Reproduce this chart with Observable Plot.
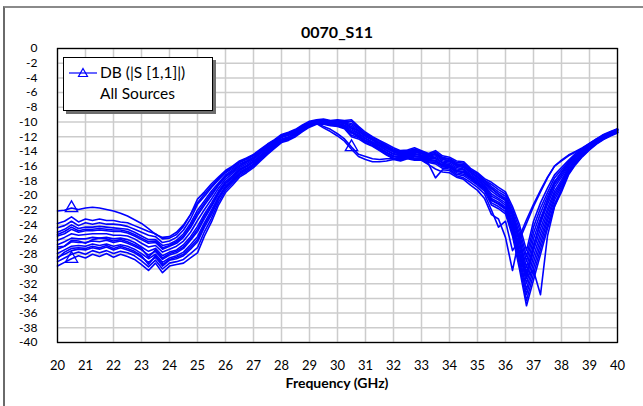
<!DOCTYPE html>
<html><head><meta charset="utf-8">
<script src="https://cdn.jsdelivr.net/npm/d3@7"></script>
<script src="https://cdn.jsdelivr.net/npm/@observablehq/plot@0.6"></script>
<style>
body{margin:0;background:#fff;}
#wrap{position:relative;width:643px;height:406px;overflow:hidden;font-family:Lato,"Open Sans",sans-serif;background:#fff;color:#000;}
#frame{position:absolute;left:3px;top:6px;width:700px;height:460px;border-left:2px solid #6a6a6a;border-top:2px solid #8a8a8a;}
#chart{position:absolute;left:0;top:0;}
#title{position:absolute;left:57px;width:560px;top:22px;text-align:center;font-weight:bold;font-size:16px;line-height:20px;}
#xlabel{position:absolute;left:57px;width:560px;top:374px;text-align:center;font-weight:bold;font-size:14px;line-height:18px;}
#legend{position:absolute;left:63px;top:57px;width:148px;height:52px;border:1px solid #000;background:#fff;box-shadow:3px 3px 0 #6e6e6e;}
#legend svg{position:absolute;left:4px;top:6px;}
.lt{position:absolute;left:36px;font-size:15.5px;line-height:18px;white-space:nowrap;}
</style>
</head><body>
<div id="wrap">
  <div id="frame"></div>
  <div id="chart"></div>
  <div id="title">0070_S11</div>
  <div id="xlabel">Frequency (GHz)</div>
  <div id="legend">
    <svg width="32" height="18"><line x1="1" y1="9" x2="29" y2="9" stroke="#0000ff" stroke-width="1.2"/><path d="M15,4.5 L19.5,12.5 L10.5,12.5 Z" fill="none" stroke="#0000ff" stroke-width="1.2"/></svg>
    <div class="lt" style="top:5px">DB (|S [1,1]|)</div>
    <div class="lt" style="top:26px">All Sources</div>
  </div>
</div>
<script>
// Frequency grid (GHz)
const freq = [20,20.25,20.5,20.75,21,21.25,21.5,21.75,22,22.25,
22.5,22.75,23,23.25,23.5,23.75,24,24.25,24.5,24.75,
25,25.25,25.5,25.75,26,26.25,26.5,26.75,27,27.25,
27.5,27.75,28,28.25,28.5,28.75,29,29.25,29.5,29.75,
30,30.25,30.5,30.75,31,31.25,31.5,31.75,32,32.25,
32.5,32.75,33,33.25,33.5,33.75,34,34.25,34.5,34.75,
35,35.25,35.5,35.75,36,36.25,36.5,36.75,37,37.25,
37.5,37.75,38,38.25,38.5,38.75,39,39.25,39.5,39.75,
40];

// S11 (dB) traces, one per source
const s0 = [-23.8,-23.5,-22.9,-23.6,-23.2,-23.4,-23.2,-23.4,-23.4,-23.6,
-23.7,-24.1,-24.5,-24.9,-25.2,-25.9,-25.8,-25.3,-24.2,-22.6,
-20.5,-19.5,-18.4,-17.5,-16.6,-16.0,-15.3,-14.9,-14.4,-13.7,
-13.0,-12.4,-11.7,-11.4,-11.0,-10.4,-9.9,-9.7,-9.6,-9.8,
-9.7,-9.8,-9.7,-10.6,-11.4,-12.0,-12.5,-13.0,-13.5,-13.9,
-13.8,-13.5,-13.9,-14.3,-13.9,-14.6,-14.8,-15.3,-15.4,-16.3,
-16.9,-17.7,-18.2,-18.9,-19.5,-21.5,-24.0,-27.5,-23.5,-21.0,
-19.0,-17.2,-16.2,-15.2,-14.3,-13.6,-12.9,-12.3,-11.7,-11.3,
-10.9];
const s1 = [-24.4,-24.1,-23.5,-24.1,-23.7,-23.9,-23.7,-23.9,-23.9,-24.0,
-24.2,-24.6,-25.0,-25.4,-25.6,-26.4,-26.2,-25.7,-24.7,-23.2,
-21.2,-20.1,-18.9,-17.9,-16.9,-16.3,-15.5,-15.1,-14.6,-13.9,
-13.1,-12.5,-11.8,-11.5,-11.1,-10.5,-10.0,-9.8,-9.7,-9.9,
-9.8,-9.9,-9.9,-10.8,-11.6,-12.1,-12.6,-13.2,-13.7,-14.0,
-13.9,-13.7,-14.0,-14.4,-14.1,-14.8,-15.0,-15.5,-15.6,-16.5,
-17.1,-17.9,-18.5,-19.2,-19.8,-21.9,-24.6,-28.3,-24.3,-21.7,
-19.6,-17.6,-16.5,-15.4,-14.5,-13.7,-13.0,-12.4,-11.8,-11.4,
-11.0];
const s2 = [-25.0,-24.6,-24.0,-24.5,-24.3,-24.3,-24.2,-24.3,-24.4,-24.5,
-24.6,-25.0,-25.5,-26.0,-26.0,-26.8,-26.6,-26.1,-25.2,-23.8,
-22.0,-20.7,-19.4,-18.3,-17.2,-16.5,-15.7,-15.3,-14.8,-14.0,
-13.3,-12.6,-11.9,-11.6,-11.2,-10.6,-10.1,-9.8,-9.7,-9.9,
-9.9,-10.0,-10.2,-10.9,-11.7,-12.3,-12.8,-13.3,-13.8,-14.1,
-14.0,-13.8,-14.1,-14.5,-14.3,-14.9,-15.1,-15.7,-15.8,-16.6,
-17.2,-18.0,-18.8,-19.5,-20.1,-22.3,-25.2,-29.0,-25.1,-22.4,
-20.1,-18.1,-16.9,-15.6,-14.6,-13.8,-13.1,-12.4,-11.8,-11.4,
-11.0];
const s3 = [-25.5,-25.2,-24.6,-25.0,-24.8,-24.8,-24.7,-24.8,-24.9,-24.9,
-25.1,-25.5,-26.0,-26.5,-26.4,-27.3,-26.9,-26.5,-25.7,-24.4,
-22.7,-21.3,-20.0,-18.6,-17.5,-16.8,-16.0,-15.5,-14.9,-14.2,
-13.4,-12.8,-12.0,-11.7,-11.3,-10.7,-10.1,-9.9,-9.8,-10.0,
-10.0,-10.1,-10.4,-11.1,-11.9,-12.4,-12.9,-13.5,-14.0,-14.3,
-14.1,-14.0,-14.2,-14.7,-14.4,-15.1,-15.3,-15.8,-16.0,-16.8,
-17.4,-18.2,-19.1,-19.8,-20.4,-22.7,-25.8,-29.8,-25.9,-23.1,
-20.7,-18.5,-17.2,-15.8,-14.8,-13.9,-13.2,-12.5,-11.9,-11.5,
-11.1];
const s4 = [-26.1,-25.7,-25.2,-25.4,-25.3,-25.2,-25.2,-25.2,-25.4,-25.4,
-25.5,-25.9,-26.5,-27.0,-26.8,-27.7,-27.3,-26.9,-26.2,-25.0,
-23.4,-21.9,-20.5,-19.0,-17.8,-17.0,-16.2,-15.7,-15.1,-14.3,
-13.6,-12.9,-12.1,-11.8,-11.4,-10.8,-10.2,-9.9,-9.9,-10.1,
-10.1,-10.2,-10.6,-11.3,-12.0,-12.5,-13.1,-13.6,-14.1,-14.4,
-14.2,-14.1,-14.3,-14.8,-14.6,-15.3,-15.4,-16.0,-16.2,-16.9,
-17.6,-18.4,-19.4,-20.1,-20.7,-23.1,-26.4,-30.5,-26.7,-23.8,
-21.2,-18.9,-17.5,-16.0,-14.9,-14.0,-13.3,-12.6,-12.0,-11.5,
-11.1];
const s5 = [-26.7,-26.3,-25.8,-25.9,-25.9,-25.7,-25.8,-25.7,-25.9,-25.8,
-26.0,-26.4,-27.0,-27.6,-27.2,-28.2,-27.7,-27.4,-26.7,-25.6,
-24.2,-22.5,-21.0,-19.4,-18.1,-17.3,-16.4,-15.9,-15.3,-14.5,
-13.7,-13.0,-12.3,-12.0,-11.5,-10.9,-10.3,-10.0,-10.0,-10.2,
-10.2,-10.4,-10.9,-11.5,-12.2,-12.7,-13.2,-13.8,-14.3,-14.5,
-14.3,-14.3,-14.5,-14.9,-14.8,-15.5,-15.6,-16.2,-16.4,-17.1,
-17.8,-18.6,-19.8,-20.4,-21.0,-23.5,-27.0,-31.3,-27.5,-24.5,
-21.8,-19.4,-17.9,-16.2,-15.1,-14.2,-13.4,-12.7,-12.1,-11.6,
-11.2];
const s6 = [-27.3,-26.9,-26.3,-26.4,-26.4,-26.2,-26.3,-26.1,-26.4,-26.2,
-26.5,-26.9,-27.4,-28.1,-27.6,-28.7,-28.1,-27.8,-27.2,-26.1,
-24.9,-23.1,-21.5,-19.8,-18.4,-17.6,-16.6,-16.1,-15.5,-14.7,
-13.8,-13.1,-12.4,-12.1,-11.6,-10.9,-10.4,-10.1,-10.0,-10.2,
-10.2,-10.5,-11.1,-11.6,-12.3,-12.8,-13.3,-13.9,-14.4,-14.6,
-14.4,-14.4,-14.6,-15.0,-15.0,-15.6,-15.8,-16.4,-16.5,-17.3,
-17.9,-18.7,-20.1,-20.6,-21.3,-23.9,-27.6,-32.0,-28.3,-25.2,
-22.3,-19.8,-18.2,-16.4,-15.2,-14.3,-13.4,-12.7,-12.1,-11.7,
-11.3];
const s7 = [-27.9,-27.4,-26.9,-26.8,-26.9,-26.6,-26.8,-26.6,-26.9,-26.7,
-26.9,-27.3,-27.9,-28.6,-28.0,-29.1,-28.5,-28.2,-27.7,-26.7,
-25.6,-23.7,-22.0,-20.2,-18.7,-17.8,-16.8,-16.3,-15.7,-14.8,
-14.0,-13.2,-12.5,-12.2,-11.7,-11.0,-10.5,-10.1,-10.1,-10.3,
-10.3,-10.6,-11.3,-11.8,-12.5,-12.9,-13.5,-14.1,-14.6,-14.7,
-14.5,-14.6,-14.7,-15.1,-15.2,-15.8,-15.9,-16.6,-16.7,-17.4,
-18.1,-18.9,-20.4,-20.9,-21.6,-24.3,-28.2,-32.8,-29.1,-25.9,
-22.9,-20.2,-18.5,-16.6,-15.4,-14.4,-13.5,-12.8,-12.2,-11.7,
-11.3];
const s8 = [-28.4,-28.0,-27.5,-27.3,-27.4,-27.1,-27.3,-27.0,-27.4,-27.1,
-27.4,-27.8,-28.4,-29.1,-28.4,-29.6,-28.8,-28.6,-28.2,-27.3,
-26.3,-24.3,-22.6,-20.5,-19.0,-18.1,-17.1,-16.5,-15.8,-15.0,
-14.1,-13.4,-12.6,-12.3,-11.8,-11.1,-10.5,-10.2,-10.2,-10.4,
-10.4,-10.7,-11.5,-12.0,-12.6,-13.0,-13.6,-14.2,-14.7,-14.9,
-14.6,-14.7,-14.8,-15.3,-15.3,-16.0,-16.1,-16.7,-16.9,-17.6,
-18.3,-19.1,-20.7,-21.2,-21.9,-24.7,-28.8,-33.5,-29.9,-26.6,
-23.4,-20.6,-18.8,-16.8,-15.5,-14.5,-13.6,-12.9,-12.3,-11.8,
-11.4];
const s9 = [-29.0,-28.5,-28.0,-27.7,-28.0,-27.5,-27.8,-27.5,-27.9,-27.6,
-27.8,-28.2,-28.9,-29.7,-28.8,-30.0,-29.2,-29.0,-28.7,-27.9,
-27.1,-24.9,-23.1,-20.9,-19.3,-18.3,-17.3,-16.7,-16.0,-15.1,
-14.3,-13.5,-12.7,-12.4,-11.9,-11.2,-10.6,-10.2,-10.2,-10.4,
-10.5,-10.8,-11.8,-12.1,-12.8,-13.2,-13.8,-14.4,-14.9,-15.0,
-14.7,-14.9,-14.9,-15.4,-15.5,-16.1,-16.2,-16.9,-17.1,-17.7,
-18.4,-19.2,-21.0,-21.5,-22.2,-25.1,-29.4,-34.3,-30.7,-27.3,
-24.0,-21.1,-19.2,-17.0,-15.7,-14.6,-13.7,-12.9,-12.3,-11.8,
-11.4];
const s10 = [-29.6,-29.1,-28.6,-28.2,-28.5,-28.0,-28.3,-27.9,-28.4,-28.0,
-28.3,-28.7,-29.4,-30.2,-29.2,-30.5,-29.6,-29.4,-29.2,-28.5,
-27.8,-25.5,-23.6,-21.3,-19.6,-18.6,-17.5,-16.9,-16.2,-15.3,
-14.4,-13.6,-12.8,-12.5,-12.0,-11.3,-10.7,-10.3,-10.3,-10.5,
-10.6,-10.9,-12.0,-12.3,-12.9,-13.3,-13.9,-14.5,-15.0,-15.1,
-14.8,-15.0,-15.0,-15.5,-15.7,-16.3,-16.4,-17.1,-17.3,-17.9,
-18.6,-19.4,-21.3,-21.8,-22.5,-25.5,-30.0,-35.0,-31.5,-28.0,
-24.5,-21.5,-19.5,-17.2,-15.8,-14.7,-13.8,-13.0,-12.4,-11.9,
-11.5];
const s11 = [-22.1,-22.0,-21.7,-21.9,-21.7,-21.6,-21.7,-21.9,-22.1,-22.4,
-22.8,-23.3,-23.8,-24.5,-25.3,-25.7,-25.6,-25.0,-24.0,-22.6,
-21.0,-19.8,-18.7,-17.7,-16.8,-16.1,-15.4,-15.0,-14.5,-13.8,
-13.2,-12.5,-11.9,-11.6,-11.1,-10.6,-10.1,-9.9,-9.8,-10.0,
-10.0,-10.2,-10.8,-11.2,-11.8,-12.3,-12.9,-13.4,-13.9,-14.2,
-14.1,-14.0,-14.3,-14.6,-14.4,-15.0,-15.3,-15.9,-16.0,-16.8,
-17.5,-18.3,-19.0,-19.8,-20.6,-22.5,-26.0,-31.0,-27.0,-23.5,
-20.6,-18.2,-16.8,-15.6,-14.6,-13.9,-13.1,-12.5,-11.9,-11.5,
-11.1];
const s12 = [-27.0,-26.9,-26.1,-26.2,-26.5,-26.0,-25.8,-25.9,-26.2,-26.0,
-26.3,-26.7,-27.2,-28.4,-27.4,-28.5,-27.9,-27.6,-27.0,-25.9,
-24.6,-22.8,-21.3,-19.6,-18.3,-17.5,-16.5,-16.0,-15.4,-14.6,
-13.8,-13.1,-12.4,-12.1,-11.6,-10.9,-10.4,-10.1,-10.6,-11.0,
-11.6,-12.3,-13.4,-14.4,-14.7,-15.0,-15.1,-15.0,-15.0,-15.2,
-14.9,-15.1,-15.1,-15.7,-17.6,-16.5,-16.6,-17.3,-17.6,-18.2,
-18.9,-19.8,-22.0,-24.3,-23.5,-27.5,-26.0,-23.8,-21.5,-19.5,
-17.6,-16.0,-15.2,-14.5,-14.0,-13.5,-12.9,-12.3,-11.8,-11.4,
-11.0];
const s13 = [-25.3,-24.9,-24.3,-24.8,-24.6,-24.6,-24.5,-24.6,-24.7,-24.7,
-24.9,-25.3,-25.8,-26.3,-26.2,-27.1,-26.8,-26.3,-25.5,-24.1,
-22.4,-21.0,-19.7,-18.5,-17.4,-16.7,-15.9,-15.4,-14.9,-14.1,
-13.4,-12.7,-12.0,-11.7,-11.3,-10.7,-10.1,-10.2,-10.8,-11.3,
-11.9,-12.6,-13.7,-14.7,-15.1,-15.4,-15.4,-15.3,-15.1,-15.3,
-15.0,-15.2,-15.2,-15.8,-16.4,-16.8,-16.9,-17.5,-17.8,-18.6,
-19.3,-20.4,-22.6,-23.2,-25.7,-30.2,-25.6,-23.3,-21.2,-19.3,
-17.5,-16.0,-15.3,-14.6,-14.1,-13.6,-13.0,-12.4,-11.9,-11.5,
-11.1];
const s14 = [-28.6,-27.7,-27.2,-27.1,-27.2,-26.9,-27.1,-26.8,-27.2,-26.9,
-27.2,-27.6,-28.2,-29.4,-28.2,-29.4,-28.7,-28.4,-28.0,-27.0,
-26.0,-24.0,-22.3,-20.4,-18.9,-18.0,-17.0,-16.4,-15.8,-14.9,
-14.1,-13.3,-12.6,-12.3,-11.8,-11.1,-10.5,-10.2,-10.2,-10.4,
-10.4,-10.7,-11.4,-11.9,-12.6,-13.0,-13.6,-14.2,-14.7,-14.8,
-14.6,-14.7,-14.8,-15.2,-15.3,-15.9,-16.0,-16.7,-16.8,-17.5,
-18.2,-19.0,-20.6,-21.1,-21.8,-24.5,-28.0,-31.0,-30.2,-33.5,
-25.5,-21.5,-19.2,-17.0,-15.6,-14.6,-13.7,-12.9,-12.3,-11.8,
-11.4];

const traceNames = ["s0","s1","s2","s3","s4","s5","s6","s7","s8","s9","s10","s11","s12","s13","s14"];
const traceValues = [s0,s1,s2,s3,s4,s5,s6,s7,s8,s9,s10,s11,s12,s13,s14];

// Triangle markers: which trace, at which frequency
const markerTrace = ["s11","s10","s12"];
const markerFreq = [20.5,20.5,30.5];

const xTicks = [20,21,22,23,24,25,26,27,28,29,30,31,32,33,34,35,36,37,38,39,40];
const yTicks = [0,-2,-4,-6,-8,-10,-12,-14,-16,-18,-20,-22,-24,-26,-28,-30,-32,-34,-36,-38,-40];

const rows = traceNames.flatMap((name, k) =>
  traceValues[k].map((v, i) => ({trace: name, f: freq[i], v})));
const markerRows = markerTrace.map((t, j) =>
  rows.find(r => r.trace === t && r.f === markerFreq[j]));

const chart = Plot.plot({
  width: 643,
  height: 406,
  marginLeft: 57,
  marginRight: 26,
  marginTop: 48,
  marginBottom: 64,
  x: {domain: [20, 40]},
  y: {domain: [-40, 0]},
  style: {fontFamily: "Lato, sans-serif", fontSize: "12px", color: "#000", background: "transparent", overflow: "visible"},
  marks: [
    Plot.gridX(xTicks, {stroke: "#cccccc", strokeOpacity: 1, strokeWidth: 1.5}),
    Plot.gridY(yTicks, {stroke: "#cccccc", strokeOpacity: 1, strokeWidth: 1.5}),
    Plot.line(rows, {x: "f", y: "v", z: "trace", stroke: "#0000ff", strokeWidth: 1.6}),
    Plot.dot(markerRows, {x: "f", y: "v", symbol: "triangle", r: 4.6, stroke: "#0000ff", fill: "none", strokeWidth: 1.3}),
    Plot.frame({stroke: "#000", strokeWidth: 1.3}),
    Plot.axisX(xTicks, {tickSize: 0, tickPadding: 18, label: null, tickFormat: d => String(d), fontSize: 13}),
    Plot.axisY(yTicks, {tickSize: 0, tickPadding: 20, label: null, tickFormat: d => String(d), fontSize: 12})
  ]
});
document.getElementById("chart").appendChild(chart);
</script>
</body></html>
